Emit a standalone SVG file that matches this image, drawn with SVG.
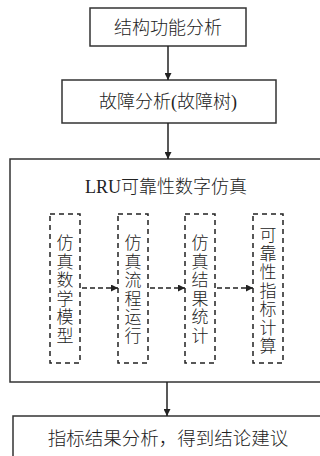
<svg xmlns="http://www.w3.org/2000/svg" width="320" height="456" viewBox="0 0 320 456">
<style>
.box{fill:#fff;stroke:#333;stroke-width:1.5}
.dbox{fill:none;stroke:#222;stroke-width:1.5;stroke-dasharray:5 4}
.t{font-family:"Liberation Serif","Noto Sans CJK SC",serif;font-size:18px;font-weight:300;fill:#222;text-anchor:middle}
.v{font-family:"Liberation Serif","Noto Sans CJK SC",serif;font-size:17px;font-weight:300;fill:#222;text-anchor:middle}
.ln{stroke:#222;stroke-width:1.5;fill:none}
.dl{stroke:#222;stroke-width:1.5;fill:none;stroke-dasharray:5 3}
</style>
<defs>
<marker id="ah" viewBox="0 0 10 10" refX="10" refY="5" markerWidth="10" markerHeight="7" markerUnits="userSpaceOnUse" orient="auto">
<path d="M0,0 L10,5 L0,10 z" fill="#222"/>
</marker>
<marker id="ah2" viewBox="0 0 10 10" refX="10" refY="5" markerWidth="12" markerHeight="7" markerUnits="userSpaceOnUse" orient="auto">
<path d="M0,0 L10,5 L0,10 z" fill="#222"/>
</marker>
</defs>
<g id="n1">
<rect class="box" x="90" y="8" width="156" height="38"/>
<text class="t" x="168" y="34">结构功能分析</text>
</g>
<g id="n2">
<rect class="box" x="62" y="80" width="214" height="43"/>
<text class="t" x="168" y="108">故障分析(故障树)</text>
</g>
<g id="n3">
<rect class="box" x="10" y="159" width="320" height="223"/>
<text class="t" x="166" y="193">LRU可靠性数字仿真</text>
</g>
<g id="s1">
<rect class="dbox" x="50" y="214" width="30" height="149"/>
<text class="v" x="65" y="249"><tspan x="65">仿</tspan><tspan x="65" dy="18.5">真</tspan><tspan x="65" dy="18.5">数</tspan><tspan x="65" dy="18.5">学</tspan><tspan x="65" dy="18.5">模</tspan><tspan x="65" dy="18.5">型</tspan></text>
</g>
<g id="s2">
<rect class="dbox" x="118" y="214" width="30" height="149"/>
<text class="v" x="133" y="249"><tspan x="133">仿</tspan><tspan x="133" dy="18.5">真</tspan><tspan x="133" dy="18.5">流</tspan><tspan x="133" dy="18.5">程</tspan><tspan x="133" dy="18.5">运</tspan><tspan x="133" dy="18.5">行</tspan></text>
</g>
<g id="s3">
<rect class="dbox" x="185" y="214" width="30" height="149"/>
<text class="v" x="200" y="249"><tspan x="200">仿</tspan><tspan x="200" dy="18.5">真</tspan><tspan x="200" dy="18.5">结</tspan><tspan x="200" dy="18.5">果</tspan><tspan x="200" dy="18.5">统</tspan><tspan x="200" dy="18.5">计</tspan></text>
</g>
<g id="s4">
<rect class="dbox" x="253" y="214" width="30" height="149"/>
<text class="v" x="268" y="241"><tspan x="268">可</tspan><tspan x="268" dy="18.5">靠</tspan><tspan x="268" dy="18.5">性</tspan><tspan x="268" dy="18.5">指</tspan><tspan x="268" dy="18.5">标</tspan><tspan x="268" dy="18.5">计</tspan><tspan x="268" dy="18.5">算</tspan></text>
</g>
<g id="n4">
<rect class="box" x="13" y="416" width="320" height="60"/>
<text class="t" x="168" y="445" style="font-size:18.5px">指标结果分析，得到结论建议</text>
</g>
<g id="connectors">
<path class="ln" d="M168,46 V80" marker-end="url(#ah)"/>
<path class="ln" d="M168,123 V159" marker-end="url(#ah)"/>
<path class="ln" d="M167,382 V416" marker-end="url(#ah)"/>
<path class="dl" d="M82,288 H118" marker-end="url(#ah2)"/>
<path class="dl" d="M150,288 H185" marker-end="url(#ah2)"/>
<path class="dl" d="M217,288 H253" marker-end="url(#ah2)"/>
</g>
</svg>
